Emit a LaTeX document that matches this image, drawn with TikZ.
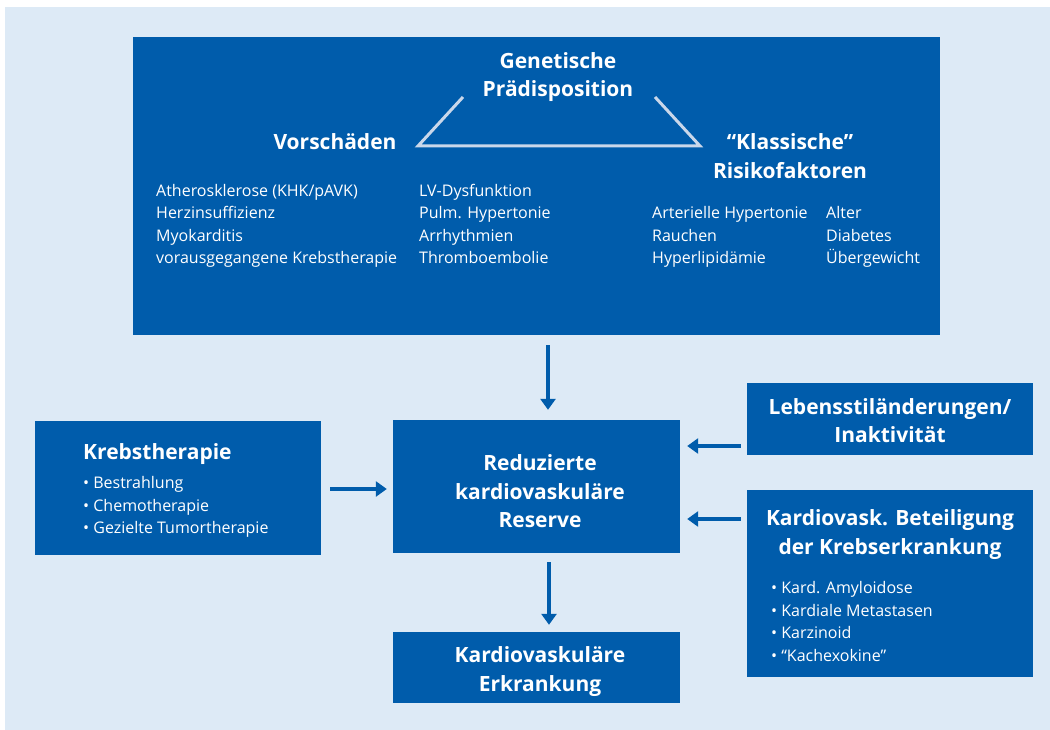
\documentclass[tikz,border=0pt]{standalone}
\usepackage{fontspec}
\setmainfont{Open Sans}
\usetikzlibrary{arrows.meta}
\definecolor{bgblue}{HTML}{DDEAF6}
\definecolor{boxblue}{HTML}{005CAB}
\definecolor{trap}{HTML}{C9D7EA}
\tikzset{
  box/.style={fill=boxblue, draw=none, inner sep=0pt},
  ttl/.style={text=white, font=\fontsize{21}{28.5}\selectfont\bfseries, align=center, inner sep=0pt},
  lst/.style={text=white, font=\fontsize{16}{22.5}\selectfont, align=left, inner sep=0pt, anchor=north west},
  arr/.style={draw=boxblue, line width=4.5pt, -{Triangle[length=11pt,width=15pt]}},
}
\begin{document}
\begin{tikzpicture}[x=1pt,y=-1pt]
\useasboundingbox (0,0) rectangle (1050,730);
\fill[white] (0,0) rectangle (1050,730);
\fill[bgblue] (5,7) rectangle (1050,730);
% boxes
\node[box, minimum width=807pt, minimum height=298pt] (top) at (536.5,186) {};
\node[box, minimum width=287pt, minimum height=133pt] (red) at (536.5,486.5) {};
\node[box, minimum width=286pt, minimum height=134pt] (krebs) at (178,488) {};
\node[box, minimum width=286pt, minimum height=72pt] (leb) at (890,419) {};
\node[box, minimum width=286pt, minimum height=187pt] (kard) at (890,583.5) {};
\node[box, minimum width=287pt, minimum height=71pt] (erk) at (536.5,667.5) {};
% top box content
\node[ttl] (gen) at (558,77) {Genetische\\Prädisposition};
\node[ttl] (vor) at (335,142) {Vorschäden};
\node[ttl] (kla) at (790,156) {“Klassische”\\Risikofaktoren};
\coordinate (t1) at (463,97);
\coordinate (t2) at (418,146);
\coordinate (t3) at (700,146);
\coordinate (t4) at (655,97);
\draw[trap, line width=3pt, line join=miter] (t1) -- (t2) -- (t3) -- (t4);
\node[lst] (l1) at (156,184) {Atherosklerose (KHK/pAVK)\\Herzinsuffizienz\\Myokarditis\\vorausgegangene Krebstherapie};
\node[lst] (l2) at (419,184) {LV-Dysfunktion\\Pulm. Hypertonie\\Arrhythmien\\Thromboembolie};
\node[lst] (l3) at (652,206.5) {Arterielle Hypertonie\\Rauchen\\Hyperlipidämie};
\node[lst] (l4) at (826,206.5) {Alter\\Diabetes\\Übergewicht};
% other boxes text
\node[ttl, anchor=west] (kt) at (83,454) {Krebstherapie};
\node[lst] (kl) at (83,476.5) {• Bestrahlung\\• Chemotherapie\\• Gezielte Tumortherapie};
\node[ttl] (rt) at (540,491.5) {Reduzierte\\kardiovaskuläre\\Reserve};
\node[ttl] (lt) at (890,420.5) {Lebensstiländerungen/\\Inaktivität};
\node[ttl] (kdt) at (890,534.5) {Kardiovask. Beteiligung\\der Krebserkrankung};
\node[lst] (kdl) at (771,581.5) {• Kard. Amyloidose\\• Kardiale Metastasen\\• Karzinoid\\• “Kachexokine”};
\node[ttl] (et) at (540,671.5) {Kardiovaskuläre\\Erkrankung};
% arrows
\draw[arr, shorten <=10pt, shorten >=10pt] ([xshift=11.5pt]top.south) -- ([xshift=11.5pt]top.south |- red.north);
\draw[arr, shorten <=9pt, shorten >=6pt] ([yshift=-1pt]krebs.east) -- ([yshift=-1pt]krebs.east -| red.west);
\draw[arr, shorten <=6pt, shorten >=7pt] ([yshift=-27pt]leb.west) -- ([yshift=-27pt]leb.west -| red.east);
\draw[arr, shorten <=6pt, shorten >=7pt] ([yshift=64.5pt]kard.west) -- ([yshift=64.5pt]kard.west -| red.east);
\draw[arr, shorten <=9pt, shorten >=7pt] ([xshift=12.5pt]red.south) -- ([xshift=12.5pt]red.south |- erk.north);
\end{tikzpicture}
\end{document}
